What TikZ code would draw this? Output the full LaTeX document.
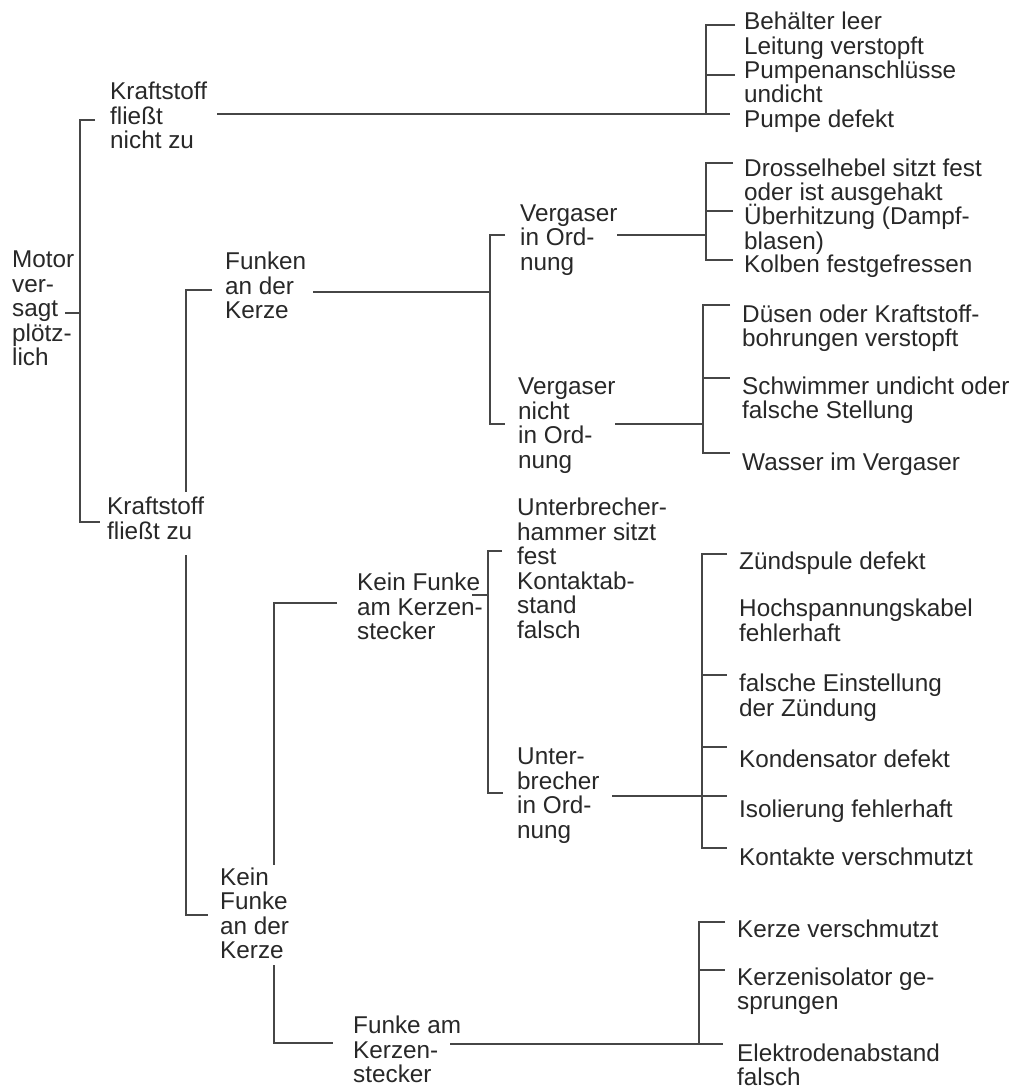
\documentclass[tikz,border=0pt]{standalone}
\usepackage{fontspec}
\setmainfont{Liberation Sans}
\definecolor{ink}{RGB}{40,40,40}
\definecolor{rulegray}{RGB}{70,70,70}
\begin{document}
\begin{tikzpicture}[x=1pt,y=-1pt,
  lbl/.style={anchor=west,inner sep=0pt,align=left,text=ink,
    font=\fontsize{24.3}{24.5}\selectfont,
    execute at begin node=\strut,execute at end node=\strut},
  wire/.style={draw=rulegray,line width=1.3pt}]
\useasboundingbox[fill=white] (0,0) rectangle (1019,1091);

% ---- fault tree labels ----
\node[lbl] (root) at (12,312) {Motor\\ver-\\sagt\\plötz-\\lich};
\node[lbl] (kfn) at (110,119) {Kraftstoff\\fließt\\nicht zu};
\node[lbl] (kfz) at (107,522) {Kraftstoff\\fließt zu};
\node[lbl] (fak) at (225,289) {Funken\\an der\\Kerze};
\node[lbl] (kfk) at (220,917) {Kein\\Funke\\an der\\Kerze};
\node[lbl] (vio) at (520,241) {Vergaser\\in Ord-\\nung};
\node[lbl] (vnio) at (518,427) {Vergaser\\nicht\\in Ord-\\nung};
\node[lbl] (kfks) at (357,610) {Kein Funke\\am Kerzen-\\stecker};
\node[lbl] (fks) at (353,1053) {Funke am\\Kerzen-\\stecker};
\node[lbl] (uhf) at (517,572) {Unterbrecher-\\hammer sitzt\\fest\\Kontaktab-\\stand\\falsch};
\node[lbl] (uio) at (517,797) {Unter-\\brecher\\in Ord-\\nung};

% causes: fuel supply
\node[lbl] (a1) at (744,24) {Behälter leer};
\node[lbl] (a2) at (744,49) {Leitung verstopft};
\node[lbl] (a3) at (744,85.5) {Pumpenanschlüsse\\undicht};
\node[lbl] (a4) at (744,122) {Pumpe defekt};
% causes: carburettor o.k.
\node[lbl] (b1) at (744,183.5) {Drosselhebel sitzt fest\\oder ist ausgehakt};
\node[lbl] (b2) at (744,230.5) {Überhitzung (Dampf-\\blasen)};
\node[lbl] (b3) at (744,267) {Kolben festgefressen};
% causes: carburettor faulty
\node[lbl] (c1) at (742,329.5) {Düsen oder Kraftstoff-\\bohrungen verstopft};
\node[lbl] (c2) at (742,401.5) {Schwimmer undicht oder\\falsche Stellung};
\node[lbl] (c3) at (742,465) {Wasser im Vergaser};
% causes: ignition
\node[lbl] (d1) at (739,564) {Zündspule defekt};
\node[lbl] (d2) at (739,624) {Hochspannungskabel\\fehlerhaft};
\node[lbl] (d3) at (739,699) {falsche Einstellung\\der Zündung};
\node[lbl] (d4) at (739,762) {Kondensator defekt};
\node[lbl] (d5) at (739,812) {Isolierung fehlerhaft};
\node[lbl] (d6) at (739,860) {Kontakte verschmutzt};
% causes: spark plug
\node[lbl] (e1) at (737,932) {Kerze verschmutzt};
\node[lbl] (e2) at (737,992.5) {Kerzenisolator ge-\\sprungen};
\node[lbl] (e3) at (737,1068.5) {Elektrodenabstand\\falsch};

% ---- junction points ----
\coordinate (r0) at (65,313);   \coordinate (r1) at (80,313);
\coordinate (rt) at (80,120);   \coordinate (rte) at (95,120);
\coordinate (rb) at (80,522);   \coordinate (rbe) at (100,522);

\coordinate (k0) at (217,114);  \coordinate (kj) at (706,114);  \coordinate (k1) at (730,114);
\coordinate (ka) at (706,25);   \coordinate (kae) at (735,25);
\coordinate (kc) at (706,75);   \coordinate (kce) at (735,75);

\coordinate (fz0) at (186,492); \coordinate (fzt) at (186,290); \coordinate (fzte) at (212,290);
\coordinate (fz1) at (186,555); \coordinate (fzb) at (186,915); \coordinate (fzbe) at (208,915);

\coordinate (f0) at (313,292);  \coordinate (fj) at (490,292);
\coordinate (ft) at (490,235);  \coordinate (fte) at (505,235);
\coordinate (fb) at (490,424);  \coordinate (fbe) at (505,424);

\coordinate (v0) at (617,235);  \coordinate (vj) at (706,235);
\coordinate (vt) at (706,163);  \coordinate (vte) at (733,163);
\coordinate (vm) at (706,211);  \coordinate (vme) at (733,211);
\coordinate (vb) at (706,260);  \coordinate (vbe) at (733,260);

\coordinate (n0) at (615,424);  \coordinate (nj) at (703,424);
\coordinate (nt) at (703,305);  \coordinate (nte) at (730,305);
\coordinate (nm) at (703,378);  \coordinate (nme) at (730,378);
\coordinate (nb) at (703,453);  \coordinate (nbe) at (730,453);

\coordinate (kk0) at (274,865); \coordinate (kkt) at (274,603); \coordinate (kkte) at (337,603);
\coordinate (kk1) at (274,965); \coordinate (kkb) at (274,1043); \coordinate (kkbe) at (333,1043);

\coordinate (s0) at (472,595);  \coordinate (sj) at (488,595);
\coordinate (st) at (488,551);  \coordinate (ste) at (502,551);
\coordinate (sb) at (488,793);  \coordinate (sbe) at (503,793);

\coordinate (u0) at (612,796);  \coordinate (uj) at (702,796);  \coordinate (u1) at (727,796);
\coordinate (ut) at (702,554);  \coordinate (ute) at (727,554);
\coordinate (u3) at (702,675);  \coordinate (u3e) at (727,675);
\coordinate (u4) at (702,747);  \coordinate (u4e) at (727,747);
\coordinate (ub) at (702,848);  \coordinate (ube) at (727,848);

\coordinate (p0) at (450,1044); \coordinate (pj) at (699,1044); \coordinate (p1) at (723,1044);
\coordinate (pt) at (699,922);  \coordinate (pte) at (725,922);
\coordinate (pm) at (699,970);  \coordinate (pme) at (725,970);

% ---- connectors ----
\draw[wire] (r0) -- (r1);
\draw[wire] (rte) -- (rt) -- (rb) -- (rbe);

\draw[wire] (k0) -- (k1);
\draw[wire] (kae) -- (ka) -- (kj);
\draw[wire] (kc) -- (kce);

\draw[wire] (fzte) -- (fzt) -- (fz0);
\draw[wire] (fz1) -- (fzb) -- (fzbe);

\draw[wire] (f0) -- (fj);
\draw[wire] (fte) -- (ft) -- (fb) -- (fbe);

\draw[wire] (v0) -- (vj);
\draw[wire] (vte) -- (vt) -- (vb) -- (vbe);
\draw[wire] (vm) -- (vme);

\draw[wire] (n0) -- (nj);
\draw[wire] (nte) -- (nt) -- (nb) -- (nbe);
\draw[wire] (nm) -- (nme);

\draw[wire] (kkte) -- (kkt) -- (kk0);
\draw[wire] (kk1) -- (kkb) -- (kkbe);

\draw[wire] (s0) -- (sj);
\draw[wire] (ste) -- (st) -- (sb) -- (sbe);

\draw[wire] (u0) -- (u1);
\draw[wire] (ute) -- (ut) -- (ub) -- (ube);
\draw[wire] (u3) -- (u3e);
\draw[wire] (u4) -- (u4e);

\draw[wire] (p0) -- (p1);
\draw[wire] (pte) -- (pt) -- (pj);
\draw[wire] (pm) -- (pme);
\end{tikzpicture}
\end{document}
